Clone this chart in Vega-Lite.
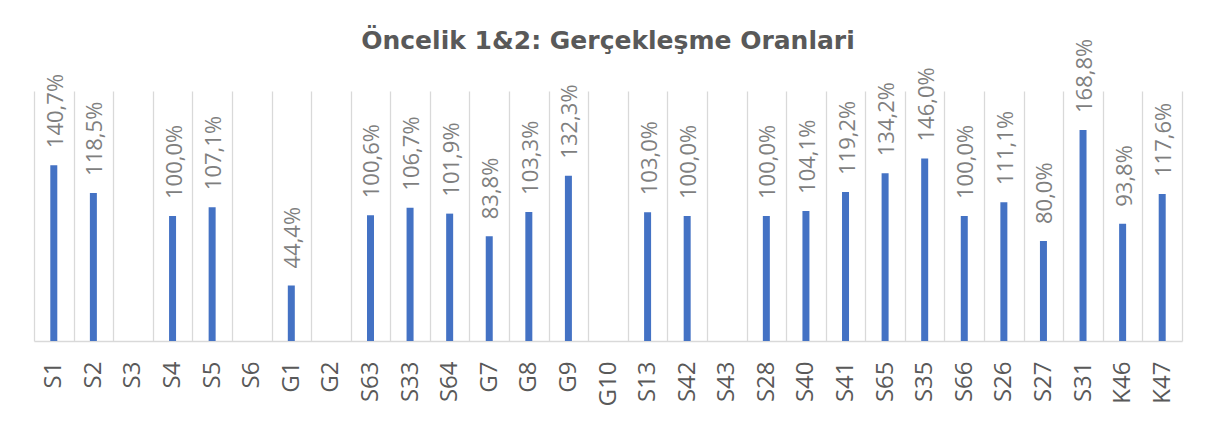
{
  "$schema": "https://vega.github.io/schema/vega-lite/v6.json",
  "width": 1148,
  "height": 250,
  "autosize": {"type": "none"},
  "padding": {"left": 34, "top": 91, "right": 33, "bottom": 91},
  "background": "white",
  "config": {
    "locale": {"number": {"decimal": ",", "thousands": ".", "grouping": [3], "currency": ["", " ₺"]}},
    "view": {"stroke": null},
    "font": "Open Sans"
  },
  "title": {
    "text": "Öncelik 1&2: Gerçekleşme Oranlari",
    "font": "DejaVu Sans",
    "fontSize": 25,
    "fontWeight": "bold",
    "color": "#595959",
    "anchor": "middle",
    "frame": "group",
    "baseline": "alphabetic",
    "offset": -35
  },
  "data": {
    "values": [
      {"kod": "S1", "oran": 1.407},
      {"kod": "S2", "oran": 1.185},
      {"kod": "S3", "oran": null},
      {"kod": "S4", "oran": 1.0},
      {"kod": "S5", "oran": 1.071},
      {"kod": "S6", "oran": null},
      {"kod": "G1", "oran": 0.444},
      {"kod": "G2", "oran": null},
      {"kod": "S63", "oran": 1.006},
      {"kod": "S33", "oran": 1.067},
      {"kod": "S64", "oran": 1.019},
      {"kod": "G7", "oran": 0.838},
      {"kod": "G8", "oran": 1.033},
      {"kod": "G9", "oran": 1.323},
      {"kod": "G10", "oran": null},
      {"kod": "S13", "oran": 1.03},
      {"kod": "S42", "oran": 1.0},
      {"kod": "S43", "oran": null},
      {"kod": "S28", "oran": 1.0},
      {"kod": "S40", "oran": 1.041},
      {"kod": "S41", "oran": 1.192},
      {"kod": "S65", "oran": 1.342},
      {"kod": "S35", "oran": 1.46},
      {"kod": "S66", "oran": 1.0},
      {"kod": "S26", "oran": 1.111},
      {"kod": "S27", "oran": 0.8},
      {"kod": "S31", "oran": 1.688},
      {"kod": "K46", "oran": 0.938},
      {"kod": "K47", "oran": 1.176}
    ]
  },
  "encoding": {
    "x": {
      "field": "kod",
      "type": "nominal",
      "sort": null,
      "scale": {
        "domain": ["S1", "S2", "S3", "S4", "S5", "S6", "G1", "G2", "S63", "S33", "S64", "G7", "G8", "G9", "G10", "S13", "S42", "S43", "S28", "S40", "S41", "S65", "S35", "S66", "S26", "S27", "S31", "K46", "K47"],
        "paddingInner": 0,
        "paddingOuter": 0
      },
      "axis": {
        "title": null,
        "labelAngle": -90,
        "labelFont": "Open Sans",
        "labelFontSize": 24,
        "labelColor": "#595959",
        "labelPadding": 20,
        "ticks": false,
        "tickBand": "extent",
        "domainColor": "#d9d9d9",
        "domainWidth": 1.5,
        "grid": true,
        "gridColor": "#d9d9d9",
        "gridWidth": 1.3
      }
    },
    "y": {
      "field": "oran",
      "type": "quantitative",
      "scale": {"domain": [0, 2], "nice": false},
      "axis": null
    }
  },
  "layer": [
    {
      "mark": {"type": "bar", "color": "#4472C4", "size": 7}
    },
    {
      "transform": [{"filter": "isValid(datum.oran)"}],
      "mark": {
        "type": "text",
        "angle": -90,
        "align": "left",
        "baseline": "middle",
        "dx": 17,
        "dy": 2,
        "font": "Open Sans",
        "fontSize": 22,
        "color": "#7f7f7f"
      },
      "encoding": {
        "text": {"field": "oran", "type": "quantitative", "format": ".1%"}
      }
    }
  ]
}
